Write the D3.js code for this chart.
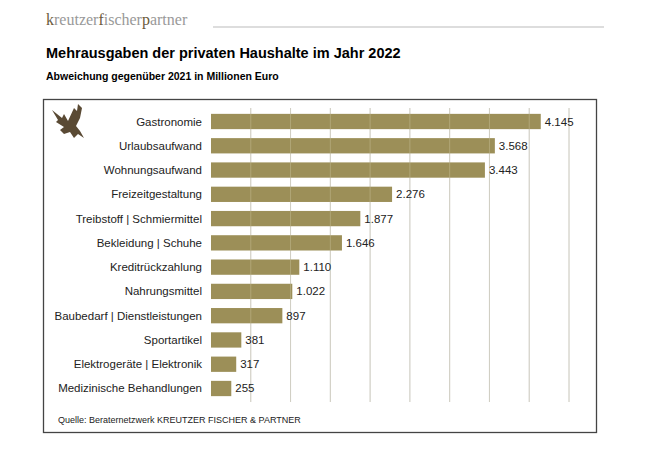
<!DOCTYPE html>
<html><head><meta charset="utf-8">
<script src="https://cdn.jsdelivr.net/npm/d3@7"></script>
<style>body{margin:0;background:#fff}</style></head>
<body><svg id="c" width="660" height="464"></svg>
<script>
const categories=["Gastronomie","Urlaubsaufwand","Wohnungsaufwand","Freizeitgestaltung","Treibstoff | Schmiermittel","Bekleidung | Schuhe","Kreditrückzahlung","Nahrungsmittel","Baubedarf | Dienstleistungen","Sportartikel","Elektrogeräte | Elektronik","Medizinische Behandlungen"];
const values=[4145,3568,3443,2276,1877,1646,1110,1022,897,381,317,255];
const gridTicks=[500,1000,1500,2000,2500,3000,3500,4000,4500];
const fmt=d3.formatLocale({decimal:",",thousands:".",grouping:[3],currency:["","€"]}).format(",d");
const svg=d3.select("#c");
const F="Liberation Sans, Arial, sans-serif";
const h=svg.append("text").attr("x",46).attr("y",25).attr("font-family","Liberation Serif, serif").attr("font-size",16).attr("fill","#8a7f73");
[["k","#6b5a3a"],["reutzer","#999"],["f","#6b5a3a"],["ischer","#999"],["p","#6b5a3a"],["artner","#999"]].forEach(([t,c])=>h.append("tspan").attr("fill",c).text(t));
svg.append("line").attr("x1",213).attr("x2",604).attr("y1",27).attr("y2",27).attr("stroke","#aaa").attr("stroke-width",0.8);
svg.append("text").attr("x",46).attr("y",58).attr("font-family",F).attr("font-size",14.5).attr("font-weight","bold").text("Mehrausgaben der privaten Haushalte im Jahr 2022");
svg.append("text").attr("x",46).attr("y",80).attr("font-family",F).attr("font-size",10.5).attr("font-weight","bold").text("Abweichung gegenüber 2021 in Millionen Euro");
svg.append("rect").attr("x",43.5).attr("y",99.5).attr("width",553).attr("height",333).attr("fill","none").attr("stroke","#444").attr("stroke-width",1.3);
const x=d3.scaleLinear().domain([0,4500]).range([211,569]);
const y=d3.scaleBand().domain(categories).range([109,401]).paddingInner(0.37).paddingOuter(0.2);
svg.append("g").selectAll("line").data(gridTicks).join("line").attr("x1",d=>x(d)).attr("x2",d=>x(d)).attr("y1",108).attr("y2",402).attr("stroke","#ccc").attr("stroke-width",1);
svg.append("g").selectAll("rect").data(values).join("rect").attr("x",x(0)).attr("y",(d,i)=>y(categories[i])).attr("width",d=>x(d)-x(0)).attr("height",y.bandwidth()).attr("fill","#9c8f58");
svg.append("g").selectAll("line").data(gridTicks).join("line").attr("x1",d=>x(d)).attr("x2",d=>x(d)).attr("y1",108).attr("y2",402).attr("stroke","#d8d0b0").attr("stroke-opacity",0.35).attr("stroke-width",1);
svg.append("g").selectAll("text").data(values).join("text").attr("x",d=>x(d)+4).attr("y",(d,i)=>y(categories[i])+y.bandwidth()/2+4).attr("font-family",F).attr("font-size",11.5).attr("fill","#222").text(d=>fmt(d));
svg.append("g").selectAll("text").data(categories).join("text").attr("x",202).attr("y",d=>y(d)+y.bandwidth()/2+4).attr("text-anchor","end").attr("font-family",F).attr("font-size",11.5).attr("fill","#222").text(d=>d);
svg.append("text").attr("x",58).attr("y",423).attr("font-family",F).attr("font-size",9).attr("fill","#222").text("Quelle:  Beraternetzwerk  KREUTZER  FISCHER  & PARTNER");
svg.append("path").attr("d","M52,110 L62,118 L64,114 L68,121 L74,108 L77,111 L78,104 L82,108 L80,118 L76,126 L80,131 L84,138 L78,134 L74,138 L70,132 L64,134 L60,130 L64,127 L56,122 L58,120 Z").attr("fill","#5a4a34");
</script></body></html>
